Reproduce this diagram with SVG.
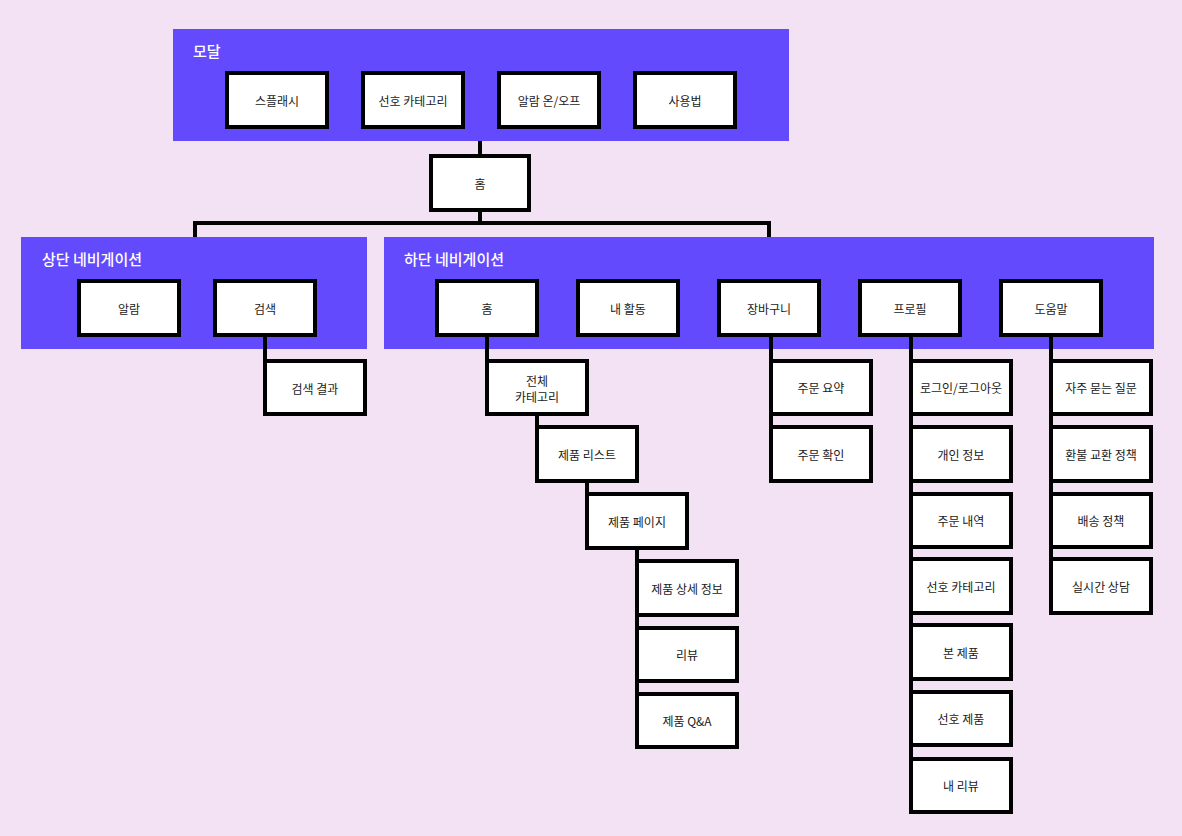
<svg xmlns="http://www.w3.org/2000/svg" width="1182" height="836" viewBox="0 0 1182 836">
<style>
.grp{fill:#634bfd}
.ttl{font-family:"Noto Sans CJK KR","Noto Sans",sans-serif;font-size:15px;font-weight:500;fill:#ffffff}
.box{fill:#ffffff;stroke:#000000;stroke-width:4}
.lbl{font-family:"Noto Sans CJK KR","Noto Sans",sans-serif;font-size:12px;fill:#1a1a1a;text-anchor:middle;dominant-baseline:central}
.ln{fill:none;stroke:#000000;stroke-width:4}
</style>
<rect width="1182" height="836" fill="#f3e2f4"/>
<g id="modal-group">
<rect class="grp" x="173" y="29" width="616" height="112"/>
<text class="ttl" x="193" y="57">모달</text>
</g>
<g id="top-nav-group">
<rect class="grp" x="21" y="237" width="346" height="112"/>
<text class="ttl" x="42" y="265">상단 네비게이션</text>
</g>
<g id="bottom-nav-group">
<rect class="grp" x="384" y="237" width="770" height="112"/>
<text class="ttl" x="404" y="265">하단 네비게이션</text>
</g>
<g id="connectors">
<path class="ln" d="M480 141V156"/>
<path class="ln" d="M480 210V223M195 223H769M195 221V237M769 221V237"/>
<path class="ln" d="M265 335V414"/>
<path class="ln" d="M487 335V414"/>
<path class="ln" d="M537 414V481"/>
<path class="ln" d="M587 481V548"/>
<path class="ln" d="M637 548V747"/>
<path class="ln" d="M771 335V481"/>
<path class="ln" d="M911 335V813"/>
<path class="ln" d="M1051 335V614"/>
</g>
<g id="n-splash"><rect class="box" x="227" y="73" width="100" height="54"/><text class="lbl" x="277" y="100">스플래시</text></g>
<g id="n-pref-cat"><rect class="box" x="363" y="73" width="100" height="54"/><text class="lbl" x="413" y="100">선호 카테고리</text></g>
<g id="n-alarm-onoff"><rect class="box" x="499" y="73" width="100" height="54"/><text class="lbl" x="549" y="100">알람 온/오프</text></g>
<g id="n-usage"><rect class="box" x="635" y="73" width="100" height="54"/><text class="lbl" x="685" y="100">사용법</text></g>
<g id="n-home"><rect class="box" x="431" y="156" width="98" height="54"/><text class="lbl" x="480" y="183">홈</text></g>
<g id="n-alarm"><rect class="box" x="79" y="281" width="100" height="54"/><text class="lbl" x="129" y="308">알람</text></g>
<g id="n-search"><rect class="box" x="215" y="281" width="100" height="54"/><text class="lbl" x="265" y="308">검색</text></g>
<g id="n-search-result"><rect class="box" x="265" y="361" width="100" height="53"/><text class="lbl" x="315" y="388">검색 결과</text></g>
<g id="n-bhome"><rect class="box" x="437" y="281" width="100" height="54"/><text class="lbl" x="487" y="308">홈</text></g>
<g id="n-activity"><rect class="box" x="578" y="281" width="100" height="54"/><text class="lbl" x="628" y="308">내 활동</text></g>
<g id="n-cart"><rect class="box" x="719" y="281" width="100" height="54"/><text class="lbl" x="769" y="308">장바구니</text></g>
<g id="n-profile"><rect class="box" x="860" y="281" width="100" height="54"/><text class="lbl" x="910" y="308">프로필</text></g>
<g id="n-help"><rect class="box" x="1001" y="281" width="100" height="54"/><text class="lbl" x="1051" y="308">도움말</text></g>
<g id="n-all-cat"><rect class="box" x="487" y="361" width="100" height="53"/><text class="lbl" x="537" y="380">전체</text><text class="lbl" x="537" y="396">카테고리</text></g>
<g id="n-prod-list"><rect class="box" x="537" y="427" width="100" height="54"/><text class="lbl" x="587" y="454">제품 리스트</text></g>
<g id="n-prod-page"><rect class="box" x="587" y="494" width="100" height="54"/><text class="lbl" x="637" y="521">제품 페이지</text></g>
<g id="n-prod-detail"><rect class="box" x="637" y="561" width="100" height="54"/><text class="lbl" x="687" y="588">제품 상세 정보</text></g>
<g id="n-review"><rect class="box" x="637" y="628" width="100" height="53"/><text class="lbl" x="687" y="654">리뷰</text></g>
<g id="n-qa"><rect class="box" x="637" y="694" width="100" height="53"/><text class="lbl" x="687" y="720">제품 Q&amp;A</text></g>
<g id="n-order-summary"><rect class="box" x="771" y="361" width="100" height="53"/><text class="lbl" x="821" y="387">주문 요약</text></g>
<g id="n-order-confirm"><rect class="box" x="771" y="427" width="100" height="54"/><text class="lbl" x="821" y="454">주문 확인</text></g>
<g id="n-login"><rect class="box" x="911" y="361" width="100" height="53"/><text class="lbl" x="961" y="387">로그인/로그아웃</text></g>
<g id="n-personal"><rect class="box" x="911" y="427" width="100" height="54"/><text class="lbl" x="961" y="454">개인 정보</text></g>
<g id="n-order-history"><rect class="box" x="911" y="494" width="100" height="53"/><text class="lbl" x="961" y="520">주문 내역</text></g>
<g id="n-pref-cat2"><rect class="box" x="911" y="559" width="100" height="54"/><text class="lbl" x="961" y="586">선호 카테고리</text></g>
<g id="n-viewed"><rect class="box" x="911" y="625" width="100" height="54"/><text class="lbl" x="961" y="652">본 제품</text></g>
<g id="n-pref-prod"><rect class="box" x="911" y="692" width="100" height="53"/><text class="lbl" x="961" y="718">선호 제품</text></g>
<g id="n-my-review"><rect class="box" x="911" y="759" width="100" height="53"/><text class="lbl" x="961" y="785">내 리뷰</text></g>
<g id="n-faq"><rect class="box" x="1051" y="361" width="100" height="53"/><text class="lbl" x="1101" y="387">자주 묻는 질문</text></g>
<g id="n-refund"><rect class="box" x="1051" y="427" width="100" height="54"/><text class="lbl" x="1101" y="454">환불 교환 정책</text></g>
<g id="n-shipping"><rect class="box" x="1051" y="494" width="100" height="53"/><text class="lbl" x="1101" y="520">배송 정책</text></g>
<g id="n-live"><rect class="box" x="1051" y="559" width="100" height="54"/><text class="lbl" x="1101" y="586">실시간 상담</text></g>
</svg>
